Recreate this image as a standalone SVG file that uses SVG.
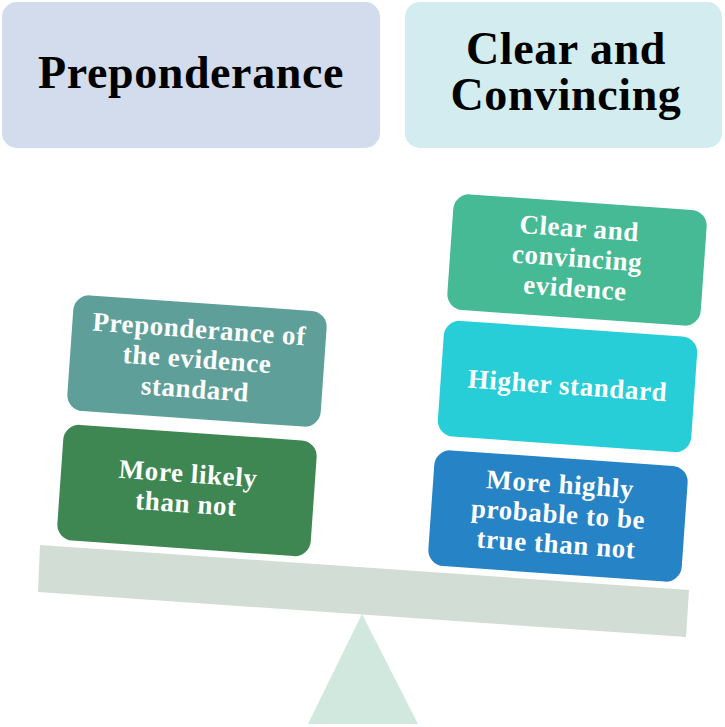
<svg xmlns="http://www.w3.org/2000/svg" width="725" height="727" viewBox="0 0 725 727">
<style>
.hdr{font-family:"Liberation Serif","Times New Roman",serif;font-weight:bold;font-size:46px;fill:#000;text-anchor:middle;letter-spacing:0.6px}
.lbl{font-family:"Liberation Serif","Times New Roman",serif;font-weight:bold;font-size:27px;fill:#fff;text-anchor:middle;letter-spacing:0.6px}
</style>
<rect width="725" height="727" fill="#fff"/>
<g id="balance">
<polygon points="40,545 689,590 686,637 38,592" fill="#D2DDD5"/>
<polygon points="362,614 418,724 308,724" fill="#D1E8DE"/>
</g>
<g id="head-preponderance">
<rect x="2" y="2" width="378" height="146" rx="15" fill="#D3DCEC"/>
<text class="hdr" x="191" y="88">Preponderance</text>
</g>
<g id="head-clear">
<rect x="405" y="2" width="317" height="146" rx="15" fill="#D3ECEF"/>
<text class="hdr" x="566" y="64">Clear and</text>
<text class="hdr" x="566" y="110">Convincing</text>
</g>
<g id="node-preponderance-standard" transform="translate(197,361) rotate(4)">
<rect x="-127" y="-58" width="254" height="116" rx="16" fill="#5F9F9A"/>
<text class="lbl" y="-23">Preponderance of</text>
<text class="lbl" y="7">the evidence</text>
<text class="lbl" y="37">standard</text>
</g>
<g id="node-more-likely" transform="translate(187,490.5) rotate(4)">
<rect x="-127" y="-58" width="254" height="116" rx="16" fill="#3E8752"/>
<text class="lbl" y="-8">More likely</text>
<text class="lbl" y="22">than not</text>
</g>
<g id="node-clear-evidence" transform="translate(577,260) rotate(4)">
<rect x="-127" y="-58" width="254" height="116" rx="16" fill="#46B995"/>
<text class="lbl" y="-23">Clear and</text>
<text class="lbl" y="7">convincing</text>
<text class="lbl" y="37">evidence</text>
</g>
<g id="node-higher-standard" transform="translate(567.5,386.5) rotate(4)">
<rect x="-127" y="-58" width="254" height="116" rx="16" fill="#27CED7"/>
<text class="lbl" y="8">Higher standard</text>
</g>
<g id="node-highly-probable" transform="translate(558,516) rotate(4)">
<rect x="-127" y="-58" width="254" height="116" rx="16" fill="#2683C6"/>
<text class="lbl" y="-23">More highly</text>
<text class="lbl" y="7">probable to be</text>
<text class="lbl" y="37">true than not</text>
</g>
</svg>
